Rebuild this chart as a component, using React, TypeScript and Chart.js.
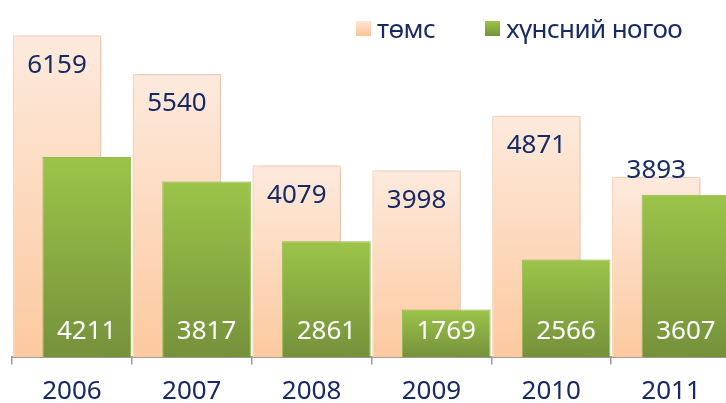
import React, { useEffect, useRef } from "react";
import { Chart, registerables } from "chart.js";

Chart.register(...registerables);

const categories = ["2006", "2007", "2008", "2009", "2010", "2011"];
const potatoValues = [6159, 5540, 4079, 3998, 4871, 3893];
const vegetableValues = [4211, 3817, 2861, 1769, 2566, 3607];
const seriesNames = ["төмс", "хүнсний ногоо"];
const yMin = 1000;
const yMax = 6500;

const FONT = '"Noto Sans", "Open Sans", sans-serif';
const NAVY = "#172a63";

function barGradient(c: any, light: string, dark: string, fallback: string) {
  const chart = c.chart;
  const ys = chart.scales && chart.scales.y;
  if (!ys || c.type !== "data") return fallback;
  const top = ys.getPixelForValue(c.raw);
  const bottom = ys.getPixelForValue(yMin);
  if (!isFinite(top) || !isFinite(bottom) || top === bottom) return fallback;
  const g = chart.ctx.createLinearGradient(0, top, 0, bottom);
  g.addColorStop(0, light);
  g.addColorStop(1, dark);
  return g;
}

function drawValueLabels(chart: any) {
  const ctx = chart.ctx;
  ctx.save();
  ctx.font = `26px ${FONT}`;
  ctx.textAlign = "center";
  ctx.textBaseline = "middle";
  const m0 = chart.getDatasetMeta(0);
  m0.data.forEach((bar: any, i: number) => {
    const v = chart.data.datasets[0].data[i];
    const y = i === m0.data.length - 1 ? bar.y - 6 : bar.y + 30;
    ctx.fillStyle = NAVY;
    ctx.fillText(String(v), bar.x, y);
  });
  const m1 = chart.getDatasetMeta(1);
  m1.data.forEach((bar: any, i: number) => {
    const v = chart.data.datasets[1].data[i];
    ctx.fillStyle = "#ffffff";
    ctx.fillText(String(v), bar.x, chart.chartArea.bottom - 26);
  });
  ctx.restore();
}

// Draw the peach series first (with a soft shadow), the green series on top of it.
const drawOrderPlugin = {
  id: "drawOrder",
  beforeDatasetsDraw(chart: any) {
    const ctx = chart.ctx;
    const a = chart.chartArea;
    [0, 1].forEach((i) => {
      const meta = chart.getDatasetMeta(i);
      ctx.save();
      ctx.beginPath();
      ctx.rect(a.left - 20, a.top - 20, a.right - a.left + 40, a.bottom - a.top + 20);
      ctx.clip();
      if (i === 0) {
        ctx.shadowColor = "rgba(0,0,0,0.14)";
        ctx.shadowBlur = 7;
        ctx.shadowOffsetX = 2;
        ctx.shadowOffsetY = 0;
      }
      meta.controller.draw();
      ctx.restore();
    });
    drawValueLabels(chart);
    return false;
  },
};

export default function App() {
  const ref = useRef<HTMLCanvasElement | null>(null);

  useEffect(() => {
    if (!ref.current) return;
    const chart = new Chart(ref.current, {
      type: "bar",
      data: {
        labels: categories,
        datasets: [
          {
            label: seriesNames[0],
            data: potatoValues,
            base: yMin,
            backgroundColor: (c: any) => barGradient(c, "#fdeadd", "#fcc99f", "#fcd5b5"),
            borderColor: "#fbdcc3",
            borderWidth: 1.5,
            categoryPercentage: 0.495,
            barPercentage: 2.99,
          },
          {
            label: seriesNames[1],
            data: vegetableValues,
            base: yMin,
            backgroundColor: (c: any) => barGradient(c, "#9cc449", "#75913b", "#8ab045"),
            borderColor: "#92b94c",
            borderWidth: 1,
            categoryPercentage: 0.495,
            barPercentage: 2.99,
          },
        ],
      },
      options: {
        animation: false,
        responsive: false,
        layout: { padding: { top: 14, left: 12, right: 9, bottom: 0 } },
        plugins: {
          legend: { display: false },
          tooltip: { enabled: false },
        },
        scales: {
          x: {
            afterFit: (s: any) => {
              s.height = 45.6;
            },
            grid: {
              display: true,
              drawOnChartArea: false,
              drawTicks: true,
              tickLength: 7,
              color: "#9a9a9a",
              lineWidth: 1.5,
            },
            border: { display: true, color: "#9a9a9a", width: 2 },
            ticks: {
              color: NAVY,
              font: { family: FONT, size: 26, lineHeight: 1.2 },
              padding: 12,
              maxRotation: 0,
            },
          },
          y: {
            display: false,
            min: yMin,
            max: yMax,
          },
        },
      },
      plugins: [drawOrderPlugin],
    });
    return () => chart.destroy();
  }, []);

  const legendText: React.CSSProperties = {
    fontFamily: FONT,
    fontSize: 26,
    letterSpacing: -0.6,
    color: NAVY,
    lineHeight: "30px",
    whiteSpace: "nowrap",
  };
  const box = (bg: string): React.CSSProperties => ({
    width: 15,
    height: 15,
    background: bg,
    marginRight: 6,
    flex: "0 0 auto",
  });

  return (
    <div
      style={{
        position: "fixed",
        left: 0,
        top: 0,
        width: 726,
        height: 403,
        overflow: "hidden",
        background: "#ffffff",
      }}
    >
      <canvas ref={ref} width={740} height={403} style={{ width: 740, height: 403, display: "block" }} />
      <div
        style={{
          position: "absolute",
          left: 356,
          top: 13,
          display: "flex",
          alignItems: "center",
        }}
      >
        <div style={box("linear-gradient(#fde5d2, #fcc597)")} />
        <span style={legendText}>{seriesNames[0]}</span>
        <div style={{ width: 50 }} />
        <div style={box("linear-gradient(#9cc449, #75913b)")} />
        <span style={legendText}>{seriesNames[1]}</span>
      </div>
    </div>
  );
}
